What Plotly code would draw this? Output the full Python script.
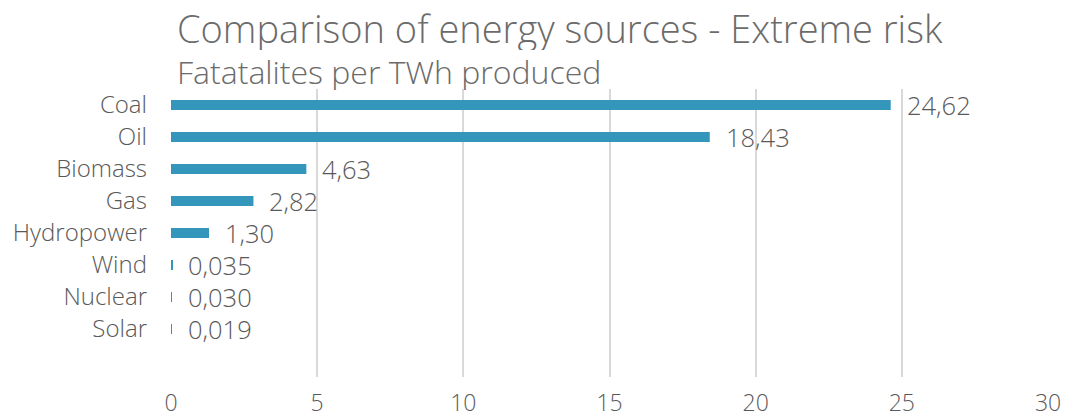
import plotly.graph_objects as go

categories = ["Coal", "Oil", "Biomass", "Gas", "Hydropower", "Wind", "Nuclear", "Solar"]
values = [24.62, 18.43, 4.63, 2.82, 1.30, 0.035, 0.030, 0.019]
value_labels = ["24,62", "18,43", "4,63", "2,82", "1,30", "0,035", "0,030", "0,019"]
x_ticks = [0, 5, 10, 15, 20, 25, 30]

cats_rev = categories[::-1]
vals_rev = values[::-1]
labels_rev = value_labels[::-1]

FONT = "Open Sans"
TXT = "#595959"
TITLE = "#6b6b6b"

fig = go.Figure()
fig.add_trace(go.Bar(
    y=cats_rev, x=vals_rev, orientation="h",
    marker=dict(color="#3596BC", line=dict(width=0)),
    width=0.32, hoverinfo="skip",
))

for c, v, t in zip(cats_rev, vals_rev, labels_rev):
    fig.add_annotation(x=v, y=c, text=t, showarrow=False, xanchor="left",
                       xshift=14, yshift=0,
                       font=dict(family=FONT, size=25.5, color=TXT, weight=300))

fig.add_annotation(xref="paper", yref="paper", x=0, y=1, xshift=4, yshift=85,
                   xanchor="left", yanchor="top", height=44, valign="middle",
                   text="Comparison of energy sources - Extreme risk", showarrow=False,
                   font=dict(family=FONT, size=38, color=TITLE, weight=300))
fig.add_annotation(xref="paper", yref="paper", x=0, y=1, xshift=4, yshift=39,
                   xanchor="left", yanchor="top", height=38, valign="middle",
                   text="Fatatalites per TWh produced", showarrow=False,
                   font=dict(family=FONT, size=32, color=TITLE, weight=300))

fig.update_layout(
    width=1069, height=419,
    margin=dict(l=171, r=21, t=89, b=42),
    paper_bgcolor="white", plot_bgcolor="white",
    showlegend=False,
    xaxis=dict(range=[0, 30], tickvals=x_ticks, showgrid=True, gridcolor="#d9d9d9",
               gridwidth=2, zeroline=False, showline=False, automargin=False,
               ticks="outside", ticklen=5, tickcolor="rgba(0,0,0,0)",
               tickfont=dict(family=FONT, size=23, color=TXT, weight=300)),
    yaxis=dict(type="category", categoryorder="array", categoryarray=cats_rev,
               range=[-1.5, 7.5], showgrid=False, zeroline=False, showline=False,
               automargin=False, ticklabelstandoff=23,
               tickfont=dict(family=FONT, size=24, color=TXT, weight=300)),
)

fig.write_html("out.html")
